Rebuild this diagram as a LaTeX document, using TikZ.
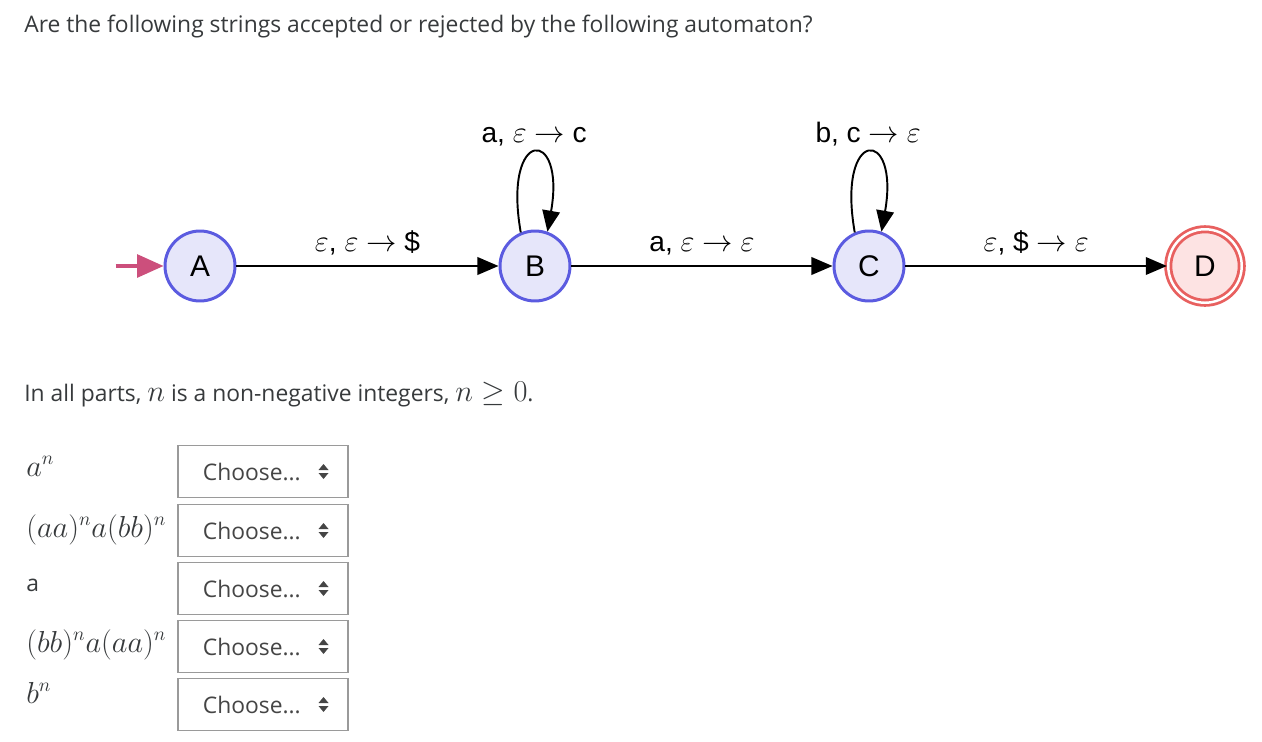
\documentclass[tikz,border=0pt]{standalone}
\usepackage{amsmath}
\usepackage{amssymb}
\usepackage{fontspec}
\setmainfont{Open Sans}
\newfontfamily\autfont{Liberation Sans}
\usetikzlibrary{arrows.meta, positioning, calc}
\definecolor{stateblue}{HTML}{5B5BE0}
\definecolor{statefill}{HTML}{E6E6FA}
\definecolor{finalred}{HTML}{E8605F}
\definecolor{finalfill}{HTML}{FDE3E3}
\definecolor{startpink}{HTML}{CC4F7C}
\definecolor{textgray}{HTML}{373A3C}
\definecolor{boxgray}{HTML}{9A9A9A}
\definecolor{choosegray}{HTML}{454545}
% bigger math, as the web page sets it
\newcommand{\mj}[1]{{\fontsize{16}{18}\selectfont$#1$}}

\begin{document}
\begin{tikzpicture}[x=0.02cm, y=0.02cm, >={Triangle[length=12pt,width=10pt]},
	state/.style={circle, draw=stateblue, fill=statefill, line width=1.7pt,
		minimum size=1.4cm, inner sep=0pt, font=\autfont\fontsize{17}{20}\selectfont},
	final/.style={state, draw=finalred, fill=finalfill, double=white,
		double distance=1.4pt, line width=1.6pt, minimum size=1.47cm},
	edge/.style={->, line width=1.1pt},
	lbl/.style={midway, anchor=base, yshift=0.3cm, font=\autfont\fontsize{16}{18}\selectfont},
	txt/.style={anchor=base west, inner sep=0pt, text=textgray, font=\fontsize{13}{16}\selectfont},
	choosebox/.style={draw=boxgray, line width=0.6pt, minimum width=3.4cm, minimum height=1.04cm, inner sep=0pt}]
	
	% Page size
	\useasboundingbox (0,0) rectangle (1262,-741);
	
	% Question
	\node[txt] (title) at (24,-32) {Are the following strings accepted or rejected by the following automaton?};
	
	% States
	\node[state] (A) at (200,-266) {A};
	\node[state] (B) at (535,-266) {B};
	\node[state] (C) at (869,-266) {C};
	\node[final] (D) at (1205,-266) {D};
	
	% Start arrow
	\coordinate (start) at ($(A.west)+(-48,0)$);
	\draw[startpink, line width=1.8pt, -{Triangle[length=15pt,width=13pt]}] (start) -- (A);
	
	% Transitions
	\draw[edge] (A) -- node[lbl] {$\varepsilon$, $\varepsilon$ $\rightarrow$ \$} (B);
	\draw[edge] (B) -- node[lbl] {a, $\varepsilon$ $\rightarrow$ $\varepsilon$} (C);
	\draw[edge] (C) -- node[lbl] {$\varepsilon$, \$ $\rightarrow$ $\varepsilon$} (D);
	
	% Self loops
	\draw[edge] (B.113) .. controls +(100:107) and +(80:107) .. node[lbl, pos=0.5, yshift=-0.08cm] {a, $\varepsilon$ $\rightarrow$ c} (B.70);
	\draw[edge] (C.113) .. controls +(100:107) and +(80:107) .. node[lbl, pos=0.5, yshift=-0.08cm] {b, c $\rightarrow$ $\varepsilon$} (C.70);
	
	% Note
	\node[txt] (note) at (24,-401) {In all parts, \mj{n} is a non-negative integers, \mj{n \geq 0}.};
	
	% Strings and their boxes
	\foreach \i/\yc/\yb/\str in {1/471.5/476/{\mj{a^n}}, 2/530.5/537/{\mj{(aa)^n a(bb)^n}},
		3/588.5/591/{a}, 4/646.5/652/{\mj{(bb)^n a(aa)^n}}, 5/704.5/703/{\mj{b^n}}} {
		\node[txt] (str\i) at (26,-\yb) {\str};
		\node[choosebox] (box\i) at (263,-\yc) {};
		\node[txt, text=choosegray] (choose\i) at ($(box\i.west)+(25,-8.5)$) {Choose...};
		\fill[choosegray] ($(box\i.east)+(-30,1.5)$) -- ++(10,0) -- ++(-5,6) -- cycle;
		\fill[choosegray] ($(box\i.east)+(-30,-1.5)$) -- ++(10,0) -- ++(-5,-6) -- cycle;
	}
	
\end{tikzpicture}
\end{document}
